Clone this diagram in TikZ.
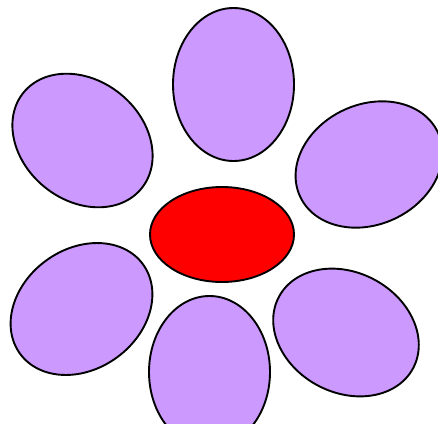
\documentclass[tikz,border=0pt]{standalone}
\usepackage{tikz}
\definecolor{petalLilac}{RGB}{204, 153, 255}
\definecolor{heartRed}{RGB}{255, 0, 0}

\begin{document}
\begin{tikzpicture}[x=1pt, y=1pt,
    petal/.style={draw=black, line width=1.9pt, fill=petalLilac},
    heart/.style={draw=black, line width=1.9pt, fill=heartRed}]
        \useasboundingbox (0,0) rectangle (438,-423);
        % petals, major radius 76, minor radius 60
        \draw[petal] (233.5,-84.5) ellipse [x radius=60.5, y radius=76.5];
        \draw[petal, rotate around={25:(369,-164.5)}] (369,-164.5) ellipse [x radius=76, y radius=60];
        \draw[petal, rotate around={141:(82.5,-140.5)}] (82.5,-140.5) ellipse [x radius=76, y radius=60];
        \draw[petal, rotate around={36:(81.5,-309)}] (81.5,-309) ellipse [x radius=76, y radius=60];
        \draw[petal, rotate around={-28:(346,-332.5)}] (346,-332.5) ellipse [x radius=76, y radius=60];
        \draw[petal] (209.5,-372) ellipse [x radius=60.5, y radius=76];
        % centre of the flower
        \draw[heart] (222,-234.5) ellipse [x radius=72, y radius=47.5];
      \end{tikzpicture}
\end{document}
